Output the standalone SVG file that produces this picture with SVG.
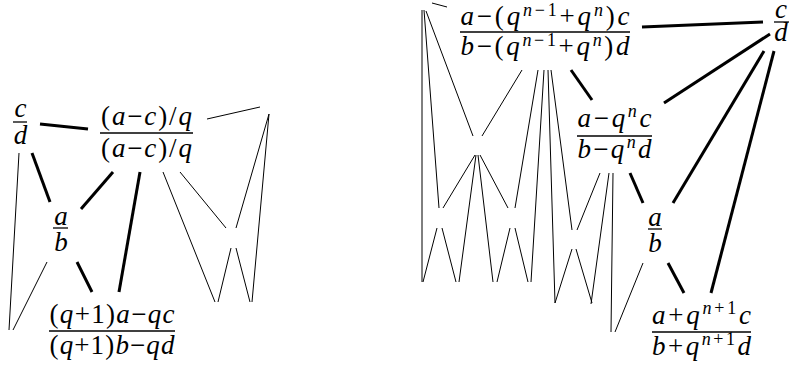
<svg xmlns="http://www.w3.org/2000/svg" width="790" height="365" viewBox="0 0 790 365">
<style>
text{font-family:"Liberation Serif",serif;font-size:27px;fill:#000;text-anchor:middle}
.i{font-style:italic}
.s{font-size:18px}
.thick{stroke:#000;stroke-width:3;fill:none}
.thin{stroke:#000;stroke-width:1;fill:none}
.bar{stroke:#000;stroke-width:1.3}
</style>
<rect width="790" height="365" fill="#fff"/>
<g id="connectors">
<g class="thick">
<line x1="40" y1="124" x2="88" y2="129"/>
<line x1="32" y1="153" x2="50" y2="202"/>
<line x1="113" y1="172" x2="81" y2="209"/>
<line x1="140" y1="172" x2="119" y2="292"/>
<line x1="77" y1="262" x2="92" y2="292"/>
<line x1="642" y1="27" x2="763" y2="22"/>
<line x1="571" y1="70" x2="592" y2="100"/>
<line x1="770" y1="34" x2="664" y2="103"/>
<line x1="764" y1="51" x2="673" y2="203"/>
<line x1="774" y1="51" x2="711" y2="293"/>
<line x1="630" y1="173" x2="643" y2="203"/>
<line x1="668" y1="263" x2="684" y2="293"/>
</g>
<g class="thin">
<line x1="19" y1="153" x2="9" y2="330"/>
<line x1="47" y1="262" x2="13" y2="330"/>
<line x1="207" y1="119" x2="260" y2="107"/>
<line x1="269" y1="114" x2="236" y2="228"/>
<line x1="269" y1="114" x2="252" y2="302"/>
<line x1="163" y1="172" x2="215" y2="302"/>
<line x1="180" y1="172" x2="226" y2="228"/>
<line x1="231" y1="248" x2="218" y2="302"/>
<line x1="236" y1="248" x2="250" y2="302"/>
<line x1="432" y1="3" x2="447" y2="7"/>
<line x1="422" y1="10" x2="422" y2="282"/>
<line x1="424" y1="10" x2="439" y2="208"/>
<line x1="426" y1="11" x2="473" y2="136"/>
<line x1="522" y1="70" x2="482" y2="136"/>
<line x1="538" y1="70" x2="515" y2="208"/>
<line x1="544" y1="70" x2="531" y2="282"/>
<line x1="548" y1="70" x2="555" y2="303"/>
<line x1="551" y1="70" x2="572" y2="230"/>
<line x1="600" y1="173" x2="577" y2="230"/>
<line x1="609" y1="173" x2="591" y2="304"/>
<line x1="613" y1="173" x2="611" y2="332"/>
<line x1="643" y1="263" x2="615" y2="332"/>
<line x1="572" y1="249" x2="555" y2="303"/>
<line x1="576" y1="249" x2="592" y2="303"/>
<line x1="475" y1="155" x2="443" y2="208"/>
<line x1="476" y1="155" x2="459" y2="282"/>
<line x1="478" y1="155" x2="493" y2="282"/>
<line x1="480" y1="155" x2="508" y2="208"/>
<line x1="437" y1="228" x2="423" y2="282"/>
<line x1="442" y1="228" x2="456" y2="282"/>
<line x1="510" y1="228" x2="497" y2="282"/>
<line x1="515" y1="228" x2="528" y2="282"/>
</g>
</g>
<g id="L-cd">
<text class="i" x="20.5" y="117">c</text>
<line class="bar" x1="13" y1="122" x2="27" y2="122"/>
<text class="i" x="20.5" y="144">d</text>
</g>
<g id="L-acq">
<text x="146.5" y="125" textLength="91">(<tspan class="i">a</tspan>−<tspan class="i">c</tspan>)/<tspan class="i">q</tspan></text>
<line class="bar" x1="100" y1="133" x2="193" y2="133"/>
<text x="146.5" y="157" textLength="91">(<tspan class="i">a</tspan>−<tspan class="i">c</tspan>)/<tspan class="i">q</tspan></text>
</g>
<g id="L-ab">
<text class="i" x="61" y="225">a</text>
<line class="bar" x1="53" y1="228" x2="68" y2="228"/>
<text class="i" x="61" y="251">b</text>
</g>
<g id="L-q1">
<text x="112" y="323" textLength="125">(<tspan class="i">q</tspan>+1)<tspan class="i">a</tspan>−<tspan class="i">qc</tspan></text>
<line class="bar" x1="49" y1="331" x2="175" y2="331"/>
<text x="112" y="354" textLength="125">(<tspan class="i">q</tspan>+1)<tspan class="i">b</tspan>−<tspan class="i">qd</tspan></text>
</g>
<g id="R-top">
<text x="545" y="25" textLength="169"><tspan class="i">a</tspan>−(<tspan class="i">q</tspan><tspan class="s" dy="-9"><tspan class="i">n</tspan>−1</tspan><tspan dy="9">+</tspan><tspan class="i">q</tspan><tspan class="s i" dy="-9">n</tspan><tspan dy="9">)</tspan><tspan class="i">c</tspan></text>
<line class="bar" x1="460" y1="32" x2="630" y2="32"/>
<text x="545" y="55" textLength="169"><tspan class="i">b</tspan>−(<tspan class="i">q</tspan><tspan class="s" dy="-9"><tspan class="i">n</tspan>−1</tspan><tspan dy="9">+</tspan><tspan class="i">q</tspan><tspan class="s i" dy="-9">n</tspan><tspan dy="9">)</tspan><tspan class="i">d</tspan></text>
</g>
<g id="R-cd">
<text class="i" x="781" y="18">c</text>
<line class="bar" x1="774" y1="22" x2="789" y2="22"/>
<text class="i" x="781" y="41">d</text>
</g>
<g id="R-aqn">
<text x="614.5" y="127" textLength="74"><tspan class="i">a</tspan>−<tspan class="i">q</tspan><tspan class="s i" dy="-10">n</tspan><tspan class="i" dy="10">c</tspan></text>
<line class="bar" x1="577" y1="136" x2="652" y2="136"/>
<text x="614.5" y="158" textLength="74"><tspan class="i">b</tspan>−<tspan class="i">q</tspan><tspan class="s i" dy="-10">n</tspan><tspan class="i" dy="10">d</tspan></text>
</g>
<g id="R-ab">
<text class="i" x="655" y="226">a</text>
<line class="bar" x1="648" y1="229" x2="662" y2="229"/>
<text class="i" x="655" y="252">b</text>
</g>
<g id="R-aqn1">
<text x="701.5" y="324" textLength="99"><tspan class="i">a</tspan>+<tspan class="i">q</tspan><tspan class="s" dy="-10"><tspan class="i">n</tspan>+1</tspan><tspan class="i" dy="10">c</tspan></text>
<line class="bar" x1="652" y1="332" x2="751" y2="332"/>
<text x="701.5" y="355" textLength="99"><tspan class="i">b</tspan>+<tspan class="i">q</tspan><tspan class="s" dy="-10"><tspan class="i">n</tspan>+1</tspan><tspan class="i" dy="10">d</tspan></text>
</g>
</svg>
